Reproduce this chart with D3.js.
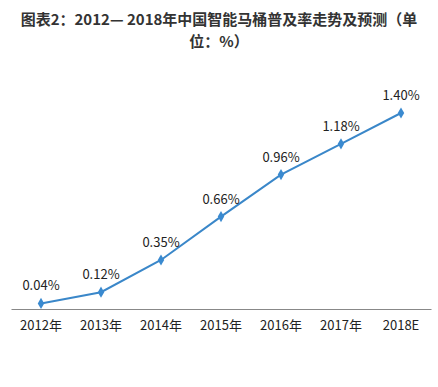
<!DOCTYPE html>
<html><head><meta charset="utf-8">
<script src="https://cdn.jsdelivr.net/npm/d3@7"></script>
<style>
body{margin:0;background:#fff;}
svg{display:block;font-family:"Noto Sans CJK SC","Noto Sans",sans-serif;}
</style></head>
<body><div id="chart"></div>
<script>
const categories = ["2012年","2013年","2014年","2015年","2016年","2017年","2018E"];
const values = [0.04, 0.12, 0.35, 0.66, 0.96, 1.18, 1.40];
const valueLabels = ["0.04%","0.12%","0.35%","0.66%","0.96%","1.18%","1.40%"];
const titleLines = ["图表2：2012— 2018年中国智能马桶普及率走势及预测（单","位：%）"];

const W = 438, H = 387;
const svg = d3.select("#chart").append("svg").attr("width", W).attr("height", H);

svg.selectAll("text.title").data(titleLines).join("text")
  .attr("class","title")
  .attr("x", W/2).attr("y", (d,i)=> 25 + i*22)
  .attr("text-anchor","middle")
  .attr("font-size", 15).attr("font-weight","bold").attr("fill","#333")
  .text(d=>d);

const x = d3.scaleBand().domain(categories).range([11, 431]);
const y = d3.scaleLinear().domain([0, 1.40]).range([309, 113]);

const xAxis = svg.append("g").attr("transform","translate(0,309)")
  .call(d3.axisBottom(x).tickSize(0).tickPadding(12));
xAxis.select(".domain").attr("stroke","#888").attr("stroke-width",1.2);
xAxis.selectAll("text").attr("font-size",13).attr("fill","#222")
  .attr("font-family",'"Noto Sans CJK SC","Noto Sans",sans-serif');

const cx = d => x(d) + x.bandwidth()/2;
const data = categories.map((c,i)=>({c, v: values[i], l: valueLabels[i]}));

svg.append("path").datum(data)
  .attr("fill","none").attr("stroke","#3a87c9").attr("stroke-width",2)
  .attr("d", d3.line().x(d=>cx(d.c)).y(d=>y(d.v)));

svg.selectAll("path.mk").data(data).join("path")
  .attr("class","mk")
  .attr("d", d3.symbol(d3.symbolDiamond, 36))
  .attr("transform", d=>`translate(${cx(d.c)},${y(d.v)})`)
  .attr("fill","#3a8ad0");

svg.selectAll("text.lbl").data(data).join("text")
  .attr("class","lbl")
  .attr("x", d=>cx(d.c)).attr("y", d=>y(d.v)-13)
  .attr("text-anchor","middle").attr("font-size",13).attr("fill","#222")
  .text(d=>d.l);
</script></body></html>
